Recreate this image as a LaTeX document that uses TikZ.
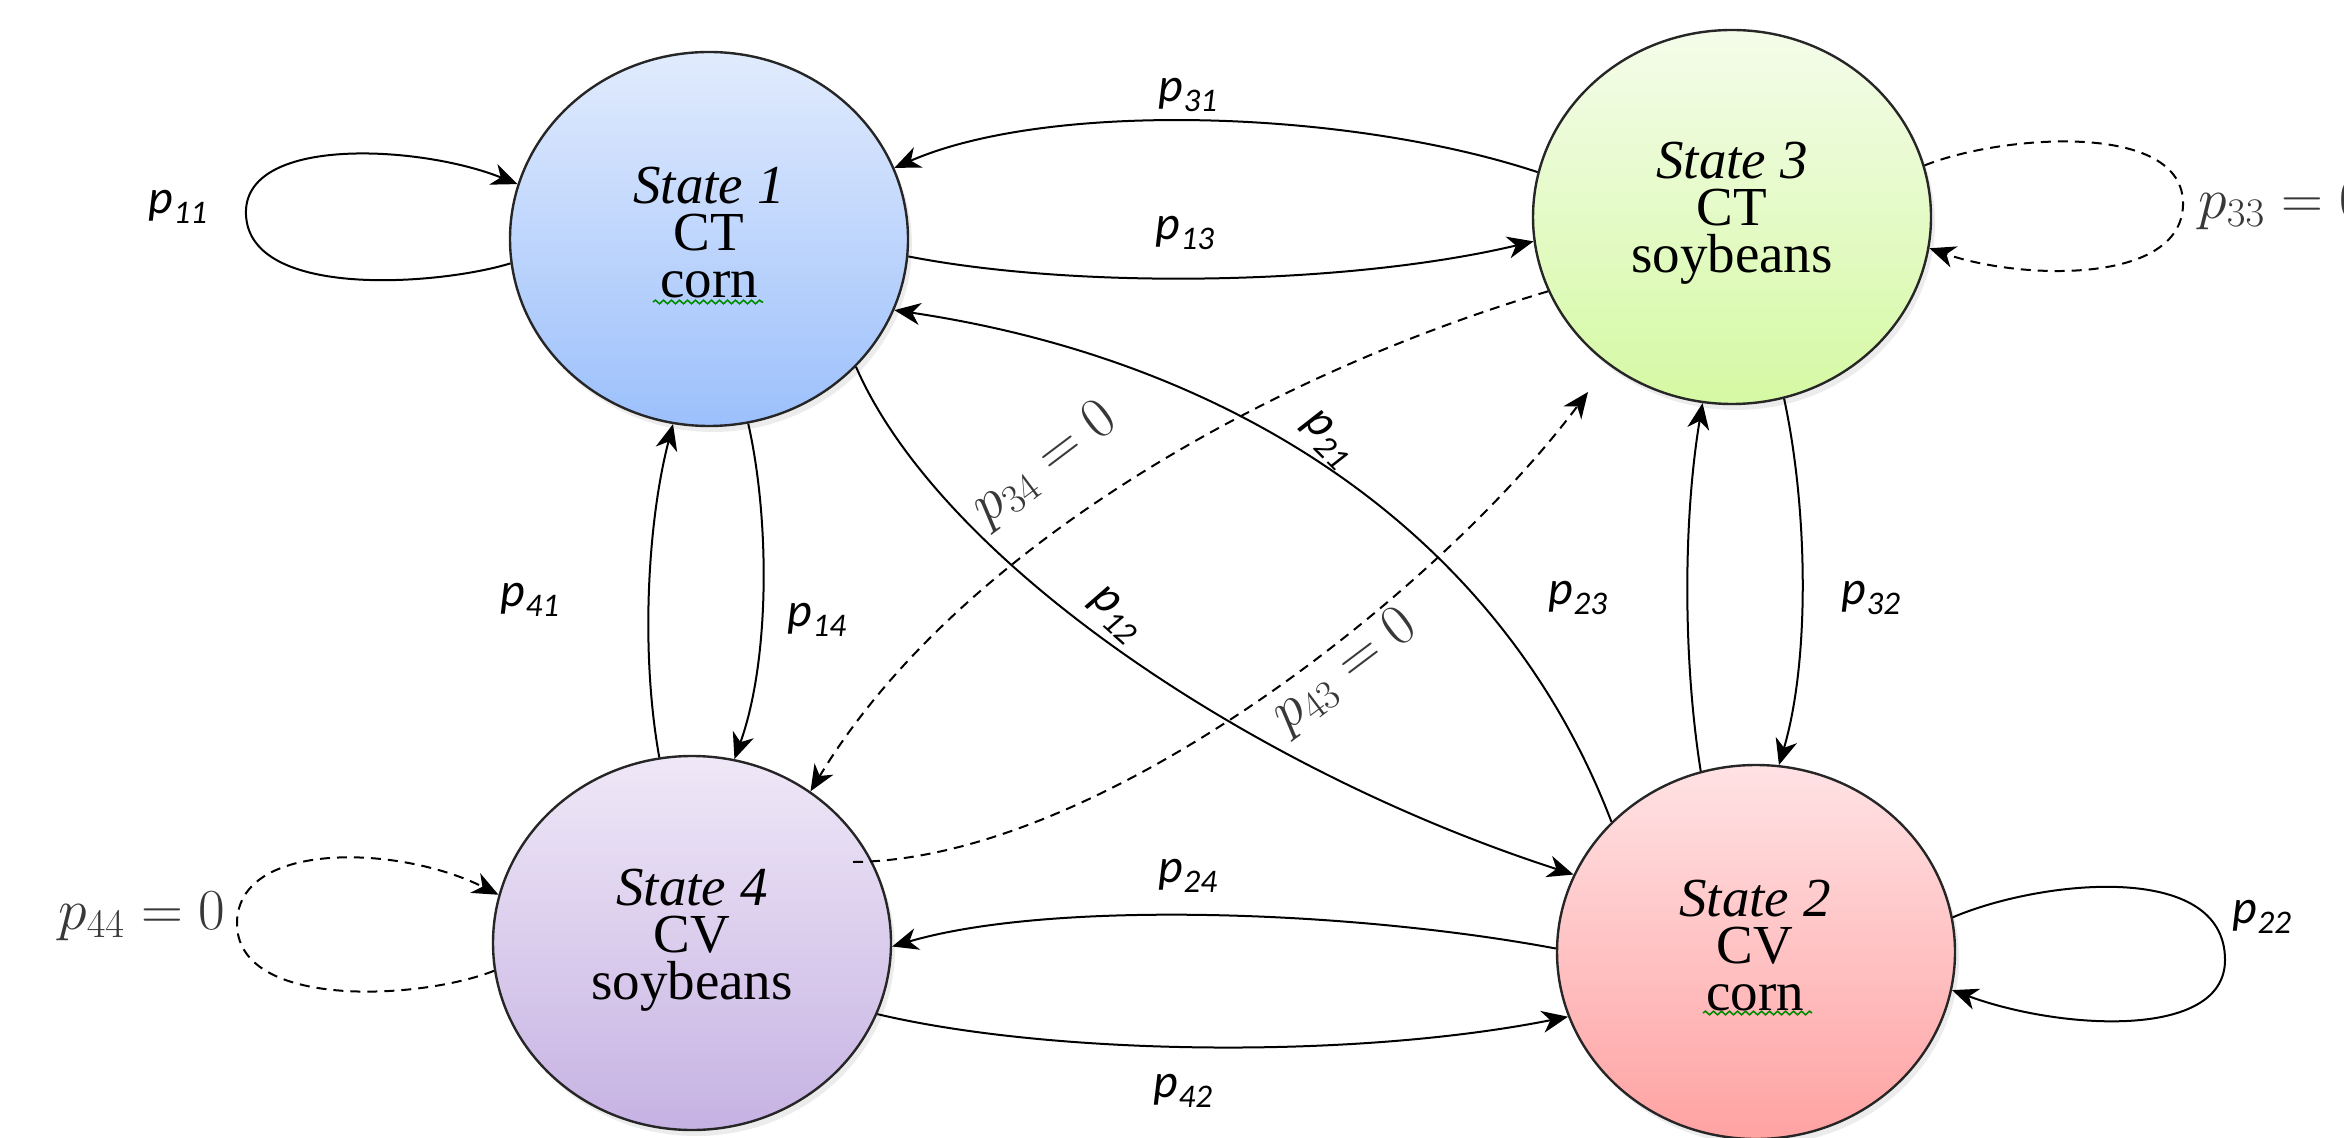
\RequirePackage{fix-cm}
\documentclass[tikz,border=0pt]{standalone}
\usepackage{fontspec}
\setmainfont{Liberation Serif}
\newfontfamily\labfont{Carlito}
\usetikzlibrary{arrows.meta,shapes.geometric,shadows,decorations.pathmorphing,calc}
\definecolor{sOneTop}{HTML}{E1EBFD}
\definecolor{sOneBot}{HTML}{9CC0FC}
\definecolor{sThreeTop}{HTML}{F4FCEA}
\definecolor{sThreeBot}{HTML}{D5F9A3}
\definecolor{sFourTop}{HTML}{EFE8F7}
\definecolor{sFourBot}{HTML}{C6B2E3}
\definecolor{sTwoTop}{HTML}{FFE2E4}
\definecolor{sTwoBot}{HTML}{FFA2A2}
\newcommand\pp[1]{p\raisebox{-0.22em}{\fontsize{16.5}{16.5}\selectfont #1}}
\tikzset{
  stateshape/.style={ellipse, draw=black!85, line width=1.2pt, minimum width=199pt,
    minimum height=187pt, inner sep=0pt,
    drop shadow={opacity=0.15, shadow xshift=2pt, shadow yshift=-3pt}},
  stext/.style={align=center, font=\fontsize{27.5}{23.5}\selectfont, inner sep=0pt},
  edge/.style={line width=1pt, -{Stealth[length=13pt,width=11pt,inset=4pt]}},
  zedge/.style={edge, dash pattern=on 5pt off 3.5pt},
  plab/.style={font=\labfont\itshape\fontsize{24}{24}\selectfont, inner sep=1pt},
  zlab/.style={text=black!78, font=\fontsize{29}{29}\selectfont, inner sep=1pt},
  squiggle/.style={draw=green!55!black, line width=0.8pt, decorate,
    decoration={snake, amplitude=0.9pt, segment length=4pt}}
}
\begin{document}
\begin{tikzpicture}[x=0.5pt,y=-0.5pt]
\useasboundingbox (0,0) rectangle (2344,1138);
% states
\node[stateshape, top color=sOneTop, bottom color=sOneBot] (s1) at (709,239) {};
\node[stateshape, top color=sThreeTop, bottom color=sThreeBot] (s3) at (1732,217) {};
\node[stateshape, top color=sFourTop, bottom color=sFourBot] (s4) at (692,943) {};
\node[stateshape, top color=sTwoTop, bottom color=sTwoBot] (s2) at (1756,952) {};
\node[stext] (s1t) at (709,233) {\textit{State 1}\\CT\\corn};
\node[stext] (s3t) at (1732,213) {\textit{State 3}\\CT\\soybeans};
\node[stext] (s4t) at (692,940) {\textit{State 4}\\CV\\soybeans};
\node[stext] (s2t) at (1755,946) {\textit{State 2}\\CV\\corn};
\draw[squiggle] ($(s1.center)+(-56,63)$) -- ++(110,0);
\draw[squiggle] ($(s2.center)+(-53,61)$) -- ++(109,0);
% free ends
\coordinate (p43s) at (853,862);
\coordinate (p43e) at (1588,392);
% edges
\draw[edge] (s1.187) .. controls (440,285) and (250,300) .. (246,215)
  .. controls (242,135) and (420,145) .. (s1.164);
\draw[edge] (s3.167) .. controls (1350,110) and (1050,100) .. (s1.21);
\draw[edge] (s1.-5) .. controls (1080,290) and (1350,285) .. (s3.187);
\draw[zedge] (s3.15) .. controls (2000,135) and (2185,120) .. (2183,205)
  .. controls (2181,285) and (2020,280) .. (s3.-9);
\draw[zedge] (s3.202) .. controls (1250,380) and (950,560) .. (s4.52);
\draw[zedge] (p43s) .. controls (1100,860) and (1440,590) .. (p43e);
\draw[edge] (s2.138) .. controls (1500,530) and (1230,360) .. (s1.-21);
\draw[edge] (s1.-41) .. controls (940,560) and (1250,770) .. (s2.157);
\draw[edge] (s2.107) .. controls (1683,660) and (1683,520) .. (s3.261);
\draw[edge] (s3.-74) .. controls (1808,510) and (1810,660) .. (s2.83);
\draw[edge] (s2.10) .. controls (2040,880) and (2225,860) .. (2225,960)
  .. controls (2225,1040) and (2060,1030) .. (s2.-11);
\draw[edge] (s2.179) .. controls (1350,910) and (1050,900) .. (s4.-1);
\draw[edge] (s4.-21) .. controls (1050,1055) and (1350,1060) .. (s2.199);
\draw[edge] (s4.100) .. controls (640,650) and (648,520) .. (s1.259);
\draw[edge] (s1.-78) .. controls (770,520) and (770,660) .. (s4.77);
\draw[zedge] (s4.188) .. controls (420,1000) and (235,1010) .. (237,922)
  .. controls (239,840) and (400,845) .. (s4.166);
% labels
\node[plab] (l11) at (178,207) {\pp{11}};
\node[plab] (l31) at (1188,95) {\pp{31}};
\node[plab] (l13) at (1185,233) {\pp{13}};
\node[plab, rotate=-45] (l21) at (1328,440) {\pp{21}};
\node[plab, rotate=-42] (l12) at (1115,615) {\pp{12}};
\node[plab] (l23) at (1578,598) {\pp{23}};
\node[plab] (l32) at (1871,598) {\pp{32}};
\node[plab] (l22) at (2262,917) {\pp{22}};
\node[plab] (l24) at (1188,876) {\pp{24}};
\node[plab] (l42) at (1183,1091) {\pp{42}};
\node[plab] (l41) at (530,600) {\pp{41}};
\node[plab] (l14) at (817,620) {\pp{14}};
\node[zlab, anchor=west] (l33) at (2196,205) {$p_{33}=0$};
\node[zlab, anchor=east] (l44) at (228,916) {$p_{44}=0$};
\node[zlab, rotate=37] (l34) at (1045,465) {$p_{34}=0$};
\node[zlab, rotate=37] (l43) at (1345,672) {$p_{43}=0$};
\end{tikzpicture}
\end{document}
